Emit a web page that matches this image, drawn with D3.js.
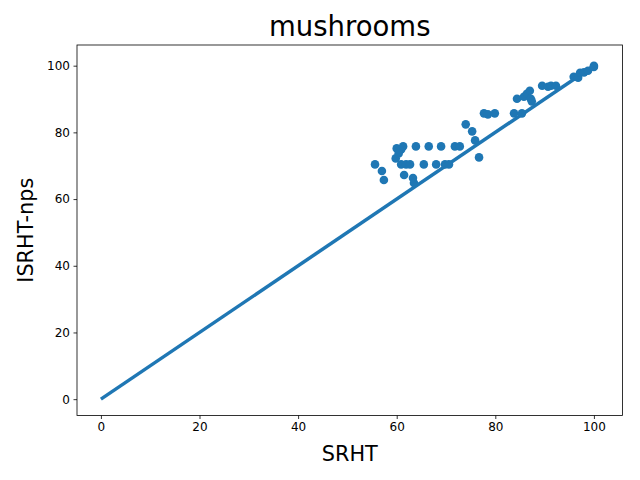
<!DOCTYPE html>
<html>
<head>
<meta charset="utf-8">
<script src="https://cdn.jsdelivr.net/npm/d3@7"></script>
<style>
  body { margin: 0; background: #fff; }
  text { font-family: "DejaVu Sans", sans-serif; }
</style>
</head>
<body>
<svg id="chart" width="640" height="480"></svg>
<script>
// scatter points (SRHT, ISRHT-nps)
const srht = [55.6, 57.0, 57.4, 59.8, 60.0, 60.9, 61.3, 60.4, 60.9, 61.5, 61.9, 62.7, 63.3, 63.5,
  63.9, 65.5, 66.5, 68.0, 69.0, 69.8, 70.6, 71.8, 72.8, 74.0, 75.3, 75.9, 76.7, 77.7, 78.5,
  79.9, 83.8, 84.4, 85.4, 85.8, 86.4, 87.0, 87.2, 87.4, 89.5, 90.7, 91.3, 92.3, 95.9, 96.8,
  97.2, 98.0, 98.8, 100, 100];
const isrht = [70.4, 68.4, 65.7, 72.2, 75.2, 74.9, 75.8, 73.7, 70.4, 67.2, 70.4, 70.4, 66.3, 64.8,
  75.8, 70.4, 75.8, 70.4, 75.8, 70.4, 70.4, 75.8, 75.8, 82.4, 80.3, 77.6, 72.5, 85.7, 85.4,
  85.7, 85.7, 90.1, 85.7, 90.7, 91.6, 92.5, 90.1, 89.3, 94.0, 93.7, 94.0, 94.0, 96.7, 96.4,
  97.9, 98.0, 98.5, 100, 99.6];
const diagonal = [0, 100];
const xTicks = [0, 20, 40, 60, 80, 100];
const yTicks = [0, 20, 40, 60, 80, 100];

const color = "#1f77b4";
const m = { left: 77, right: 622.5, top: 45, bottom: 415.5 };
const svg = d3.select("#chart");

const x = d3.scaleLinear().domain([-4.85, 105.8]).range([m.left, m.right]);
const y = d3.scaleLinear().domain([-4.9, 106.2]).range([m.bottom, m.top]);

// y = x reference line
svg.append("path")
  .datum(diagonal)
  .attr("fill", "none")
  .attr("stroke", color)
  .attr("stroke-width", 3.5)
  .attr("d", d3.line().x(d => x(d)).y(d => y(d)));

svg.append("g")
  .selectAll("circle")
  .data(srht.map((v, i) => [v, isrht[i]]))
  .join("circle")
  .attr("cx", d => x(d[0]))
  .attr("cy", d => y(d[1]))
  .attr("r", 4.3)
  .attr("fill", color);

const xAxis = svg.append("g")
  .attr("transform", `translate(0,${m.bottom})`)
  .call(d3.axisBottom(x).tickValues(xTicks).tickSize(3.5).tickPadding(3.5));
const yAxis = svg.append("g")
  .attr("transform", `translate(${m.left},0)`)
  .call(d3.axisLeft(y).tickValues(yTicks).tickSize(3.5).tickPadding(3.5));
[xAxis, yAxis].forEach(a => {
  a.select(".domain").remove();
  a.selectAll("line").attr("stroke", "#000").attr("stroke-width", 0.8);
  a.selectAll("text").attr("font-size", "12px").attr("fill", "#000")
    .attr("font-family", "DejaVu Sans");
});

// frame
svg.append("rect")
  .attr("x", m.left).attr("y", m.top)
  .attr("width", m.right - m.left).attr("height", m.bottom - m.top)
  .attr("fill", "none").attr("stroke", "#000").attr("stroke-width", 0.8);

svg.append("text")
  .attr("x", (m.left + m.right) / 2).attr("y", 36)
  .attr("text-anchor", "middle").attr("font-size", "27.5px")
  .text("mushrooms");

svg.append("text")
  .attr("x", (m.left + m.right) / 2).attr("y", 461)
  .attr("text-anchor", "middle").attr("font-size", "20.8px")
  .text("SRHT");

svg.append("text")
  .attr("transform", `translate(33,${(m.top + m.bottom) / 2}) rotate(-90)`)
  .attr("text-anchor", "middle").attr("font-size", "20.8px")
  .text("ISRHT-nps");
</script>
</body>
</html>
